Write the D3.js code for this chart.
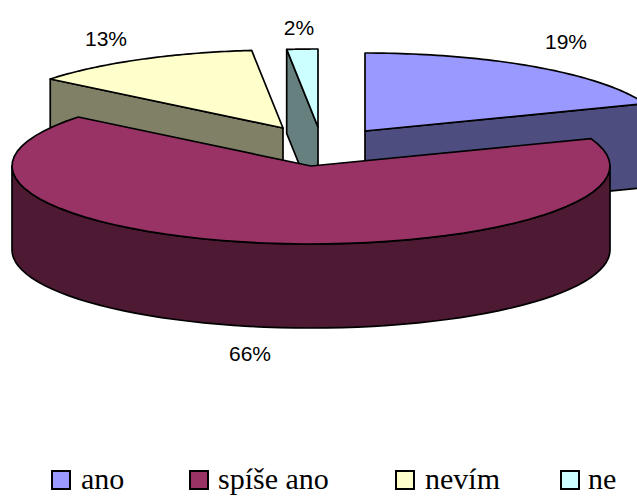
<!DOCTYPE html>
<html><head><meta charset="utf-8">
<script src="https://cdn.jsdelivr.net/npm/d3@7/dist/d3.min.js"></script>
<style>html,body{margin:0;padding:0;background:#fff}svg{display:block}</style>
</head><body><svg id="c" width="637" height="496"></svg>
<script>
const categories = ["ano", "spíše ano", "nevím", "ne"];
const values = [19.3, 66.5, 12.53, 1.67];
const labels = ["19%", "66%", "13%", "2%"];
const topColors = ["#9999FF", "#993366", "#FFFFCC", "#CCFFFF"];
const sideColors = ["#4D4D80", "#4D1933", "#808066", "#668080"];

const centers = [[365, 131], [311, 166], [283, 128], [318, 127]];
const labelPos = [[566, 49], [250, 361], [106, 46], [299, 35]];
const legendX = [52, 190, 396, 561];
const legendTextX = [81, 218, 425, 588];
const rx = 299, ry = 78, depth = 84;

const svg = d3.select("#c");
const slices = d3.pie().sort(null).value(d => d)(values);
const rxs = d3.scaleLinear().domain([-1, 1]).range([-rx, rx]);
const rys = d3.scaleLinear().domain([-1, 1]).range([-ry, ry]);
const line = d3.line().curve(d3.curveLinear);
const pt = (c, a, dz = 0) => [c[0] + rxs(Math.sin(a)), c[1] - rys(Math.cos(a)) + dz];
const arcPts = (c, a0, a1, dz = 0) => d3.range(0, 61).map(i => pt(c, a0 + (a1 - a0) * i / 60, dz));
const stroke = (sel) => sel.attr("stroke", "#000").attr("stroke-width", 1.7).attr("stroke-linejoin", "round");

function drawSide(i) {
  const s = slices[i], c = centers[i];
  const low = [c[0], c[1] + depth];
  let poly = null;
  if (i === 0) poly = [c, pt(c, s.endAngle), pt(c, s.endAngle, depth), low];
  if (i === 2 || i === 3) poly = [c, pt(c, s.startAngle), pt(c, s.startAngle, depth), low];
  if (poly) svg.append("path").attr("d", line(poly) + "Z").attr("fill", sideColors[i]).call(stroke);
  if (i === 1) {
    const a0 = Math.PI / 2, a1 = Math.PI * 1.5;
    const rim = arcPts(c, a0, a1).concat(arcPts(c, a1, a0, depth));
    svg.append("path").attr("d", line(rim) + "Z").attr("fill", sideColors[i]).call(stroke);
  }
}
function drawTop(i) {
  const s = slices[i], c = centers[i];
  const pts = [c].concat(arcPts(c, s.startAngle, s.endAngle));
  svg.append("path").attr("d", line(pts) + "Z").attr("fill", topColors[i]).call(stroke);
}
[3, 2, 0, 1].forEach(i => { drawSide(i); drawTop(i); });

labels.forEach((t, i) => {
  svg.append("text").attr("x", labelPos[i][0]).attr("y", labelPos[i][1])
    .attr("text-anchor", "middle").attr("font-family", "'Liberation Sans', Arial, sans-serif")
    .attr("font-size", 21).attr("fill", "#000").text(t);
});

categories.forEach((t, i) => {
  svg.append("rect").attr("x", legendX[i]).attr("y", 471).attr("width", 18).attr("height", 18)
    .attr("fill", topColors[i]).attr("stroke", "#000").attr("stroke-width", 2);
  svg.append("text").attr("x", legendTextX[i]).attr("y", 489)
    .attr("font-family", "'Liberation Serif', 'Times New Roman', serif")
    .attr("font-size", 30).attr("fill", "#000").text(t);
});
</script></body></html>
